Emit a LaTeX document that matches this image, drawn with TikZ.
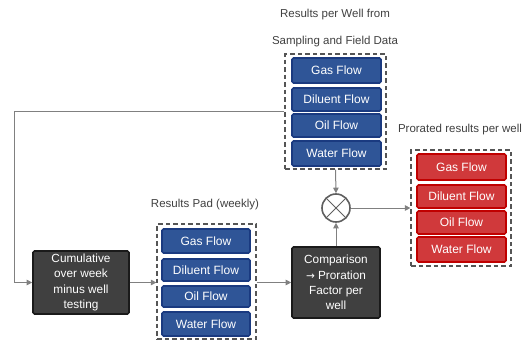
\documentclass[tikz,border=0pt]{standalone}
\usepackage{fontspec}
\setmainfont{Liberation Sans}
\newfontfamily\arrowfont{DejaVu Sans}
\usetikzlibrary{arrows.meta,calc}
\definecolor{bluefill}{HTML}{2F5597}
\definecolor{blueline}{HTML}{1A3A80}
\definecolor{redfill}{HTML}{D0393B}
\definecolor{redline}{HTML}{C00000}
\definecolor{darkfill}{HTML}{404040}
\definecolor{darkline}{HTML}{1A1A1A}
\definecolor{connline}{HTML}{808080}
\definecolor{grpline}{HTML}{555555}
\definecolor{lbl}{HTML}{404040}
\begin{document}
\begin{tikzpicture}[x=1pt,y=-1pt,
  txt/.style={font=\fontsize{12}{14}\selectfont},
  bluebox/.style={txt, draw=blueline, fill=bluefill, text=white, line width=1.6pt, rounded corners=1.5pt, inner sep=0pt},
  redbox/.style={txt, draw=redline, fill=redfill, text=white, line width=1.6pt, rounded corners=1.5pt, inner sep=0pt},
  darkbox/.style={draw=darkline, fill=darkfill, text=white, line width=1.6pt, rounded corners=1.5pt, inner sep=0pt, align=center, font=\fontsize{11.8}{15.2}\selectfont},
  grp/.style={draw=grpline, line width=1.2pt, dash pattern=on 4.5pt off 3pt, inner sep=0pt},
  label/.style={font=\fontsize{11.5}{14}\selectfont, text=lbl, inner sep=0pt},
  conn/.style={draw=connline, line width=1pt, -{Triangle[width=5.5pt,length=5.5pt]}},
  plain/.style={draw=connline, line width=1pt},
]
\useasboundingbox (0,0) rectangle (525,340);

% labels
\node[label] (l1) at (335,15) {Results per Well from};
\node[label] (l2) at (335,42) {Sampling and Field Data};
\node[label] (l3) at (205,205) {Results Pad (weekly)};
\node[label] (l4) at (460,130) {Prorated results per well};

% groups
\node[grp, minimum width=101pt, minimum height=115pt] (G1) at (335.5,111.5) {};
\node[grp, minimum width=99pt, minimum height=115pt] (G2) at (206.5,281.5) {};
\node[grp, minimum width=100pt, minimum height=116pt] (G3) at (461,208) {};

% top group (blue)
\node[bluebox, minimum width=89pt, minimum height=25pt] (t1) at (336.5,70.5) {Gas Flow};
\node[bluebox, minimum width=89pt, minimum height=23pt] (t2) at (336.5,99.5) {Diluent Flow};
\node[bluebox, minimum width=89pt, minimum height=23pt] (t3) at (336.5,125.5) {Oil Flow};
\node[bluebox, minimum width=89pt, minimum height=25pt] (t4) at (336.5,153.5) {Water Flow};

% pad group (blue)
\node[bluebox, minimum width=88pt, minimum height=24pt] (p1) at (206,241) {Gas Flow};
\node[bluebox, minimum width=88pt, minimum height=22pt] (p2) at (206,270) {Diluent Flow};
\node[bluebox, minimum width=88pt, minimum height=21pt] (p3) at (206,296.5) {Oil Flow};
\node[bluebox, minimum width=88pt, minimum height=24pt] (p4) at (206,324) {Water Flow};

% red group
\node[redbox, minimum width=89pt, minimum height=26pt] (r1) at (461.5,167) {Gas Flow};
\node[redbox, minimum width=89pt, minimum height=23pt] (r2) at (461.5,196.5) {Diluent Flow};
\node[redbox, minimum width=89pt, minimum height=23pt] (r3) at (461.5,222.5) {Oil Flow};
\node[redbox, minimum width=89pt, minimum height=25pt] (r4) at (461.5,249.5) {Water Flow};

% dark boxes
\node[darkbox, minimum width=96pt, minimum height=63pt] (cum) at (81,282.5) {Cumulative\\over week\\minus well\\testing};
\node[darkbox, minimum width=88pt, minimum height=71pt] (comp) at (336,282.5) {Comparison\\{\arrowfont\fontsize{10.5}{15.2}\selectfont →} Proration\\Factor per\\well};

% multiplier circle
\node[circle, draw=darkline!70, line width=1.6pt, minimum size=28pt, inner sep=0pt,
  path picture={\draw[darkline!70, line width=1pt]
    (path picture bounding box.south west) -- (path picture bounding box.north east)
    (path picture bounding box.north west) -- (path picture bounding box.south east);}] (mul) at (336,208) {};

% connectors
\coordinate (c1) at (14,111.5);
\draw[plain] (G1.west) -- (c1);
\draw[conn] (c1) |- (cum.west);
\draw[conn] (cum.east) -- (cum.east -| G2.west);
\draw[conn] (G2.east |- comp.west) -- (comp.west);
\draw[conn] (G1.south) -- (mul.north);
\draw[conn] (comp.north) -- (mul.south);
\draw[conn] (mul.east) -- (G3.west);
\end{tikzpicture}
\end{document}
